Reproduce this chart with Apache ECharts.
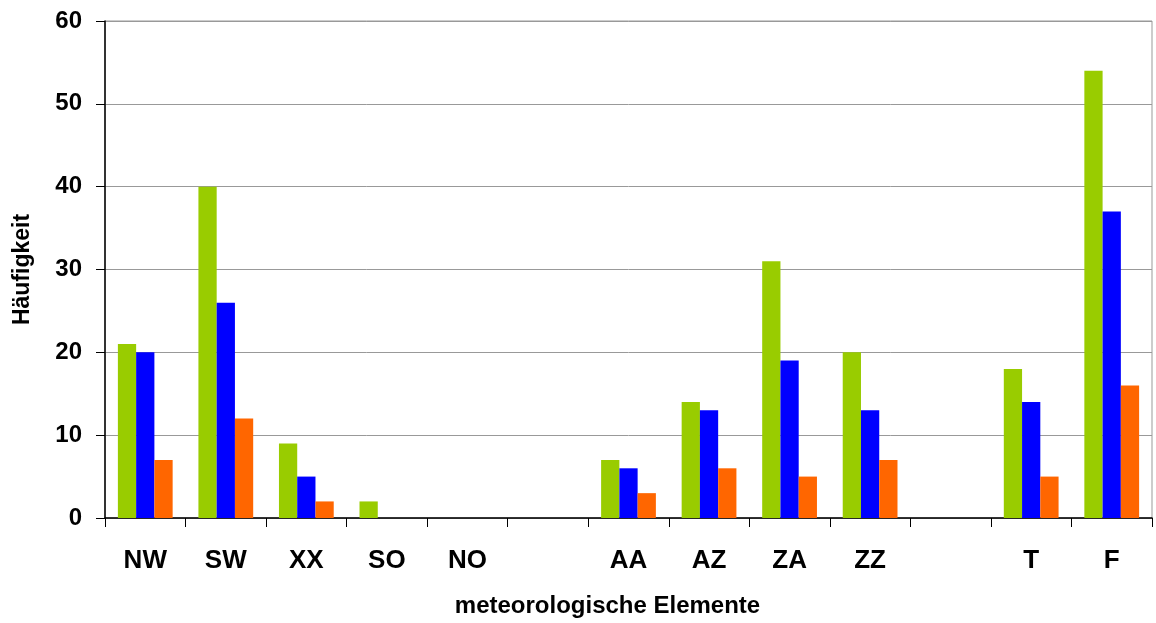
<!DOCTYPE html>
<html>
<head>
<meta charset="utf-8">
<script src="https://cdn.jsdelivr.net/npm/echarts@6/dist/echarts.min.js"></script>
<style>
html,body{margin:0;padding:0;background:#fff}
#main{width:1156px;height:623px}
</style>
</head>
<body>
<div id="main"></div>
<script>
var categories = ['NW','SW','XX','SO','NO','','AA','AZ','ZA','ZZ','','T','F'];
var serie1 = [21,40,9,2,0,0,7,14,31,20,0,18,54];
var serie2 = [20,26,5,0,0,0,6,13,19,13,0,14,37];
var serie3 = [7,12,2,0,0,0,3,6,5,7,0,5,16];
var yTicks = [0,60,10];
var arrColor = ['#99CC00','#0000FF','#FF6600'];

var myChart = echarts.init(document.getElementById('main'));
var fnt = 'Liberation Sans, Arial, sans-serif';
var option = {
    animation:false,
    grid:{
        left:105,
        right:4,
        top:21,
        bottom:102,
        show:true,
        borderColor:'#999',
        borderWidth:1
    },
    xAxis:{
        type:'category',
        data:categories,
        name:'meteorologische Elemente',
        nameLocation:'middle',
        nameGap:76,
        nameTextStyle:{fontFamily:fnt,fontWeight:'bold',fontSize:24,color:'#000',padding:[0,42,0,0]},
        axisLine:{lineStyle:{color:'#000',width:1.5}},
        axisTick:{show:true,interval:0,length:9,lineStyle:{color:'#000'}},
        axisLabel:{interval:0,margin:30,fontFamily:fnt,fontWeight:'bold',fontSize:26,color:'#000'}
    },
    yAxis:{
        type:'value',
        min:yTicks[0],
        max:yTicks[1],
        interval:yTicks[2],
        name:'Häufigkeit',
        nameLocation:'middle',
        nameGap:71,
        nameTextStyle:{fontFamily:fnt,fontWeight:'bold',fontSize:23,color:'#000'},
        axisLine:{show:true,lineStyle:{color:'#000',width:1.5}},
        axisTick:{show:true,inside:false,length:9,lineStyle:{color:'#000'}},
        axisLabel:{margin:23,fontFamily:fnt,fontWeight:'bold',fontSize:24,color:'#000'},
        splitLine:{lineStyle:{color:'#999'}}
    },
    series:[
        {type:'bar',data:serie1,barGap:'0%',barCategoryGap:'32%',itemStyle:{color:arrColor[0]}},
        {type:'bar',data:serie2,barGap:'0%',barCategoryGap:'32%',itemStyle:{color:arrColor[1]}},
        {type:'bar',data:serie3,barGap:'0%',barCategoryGap:'32%',itemStyle:{color:arrColor[2]}}
    ]
};
myChart.setOption(option);
</script>
</body>
</html>
